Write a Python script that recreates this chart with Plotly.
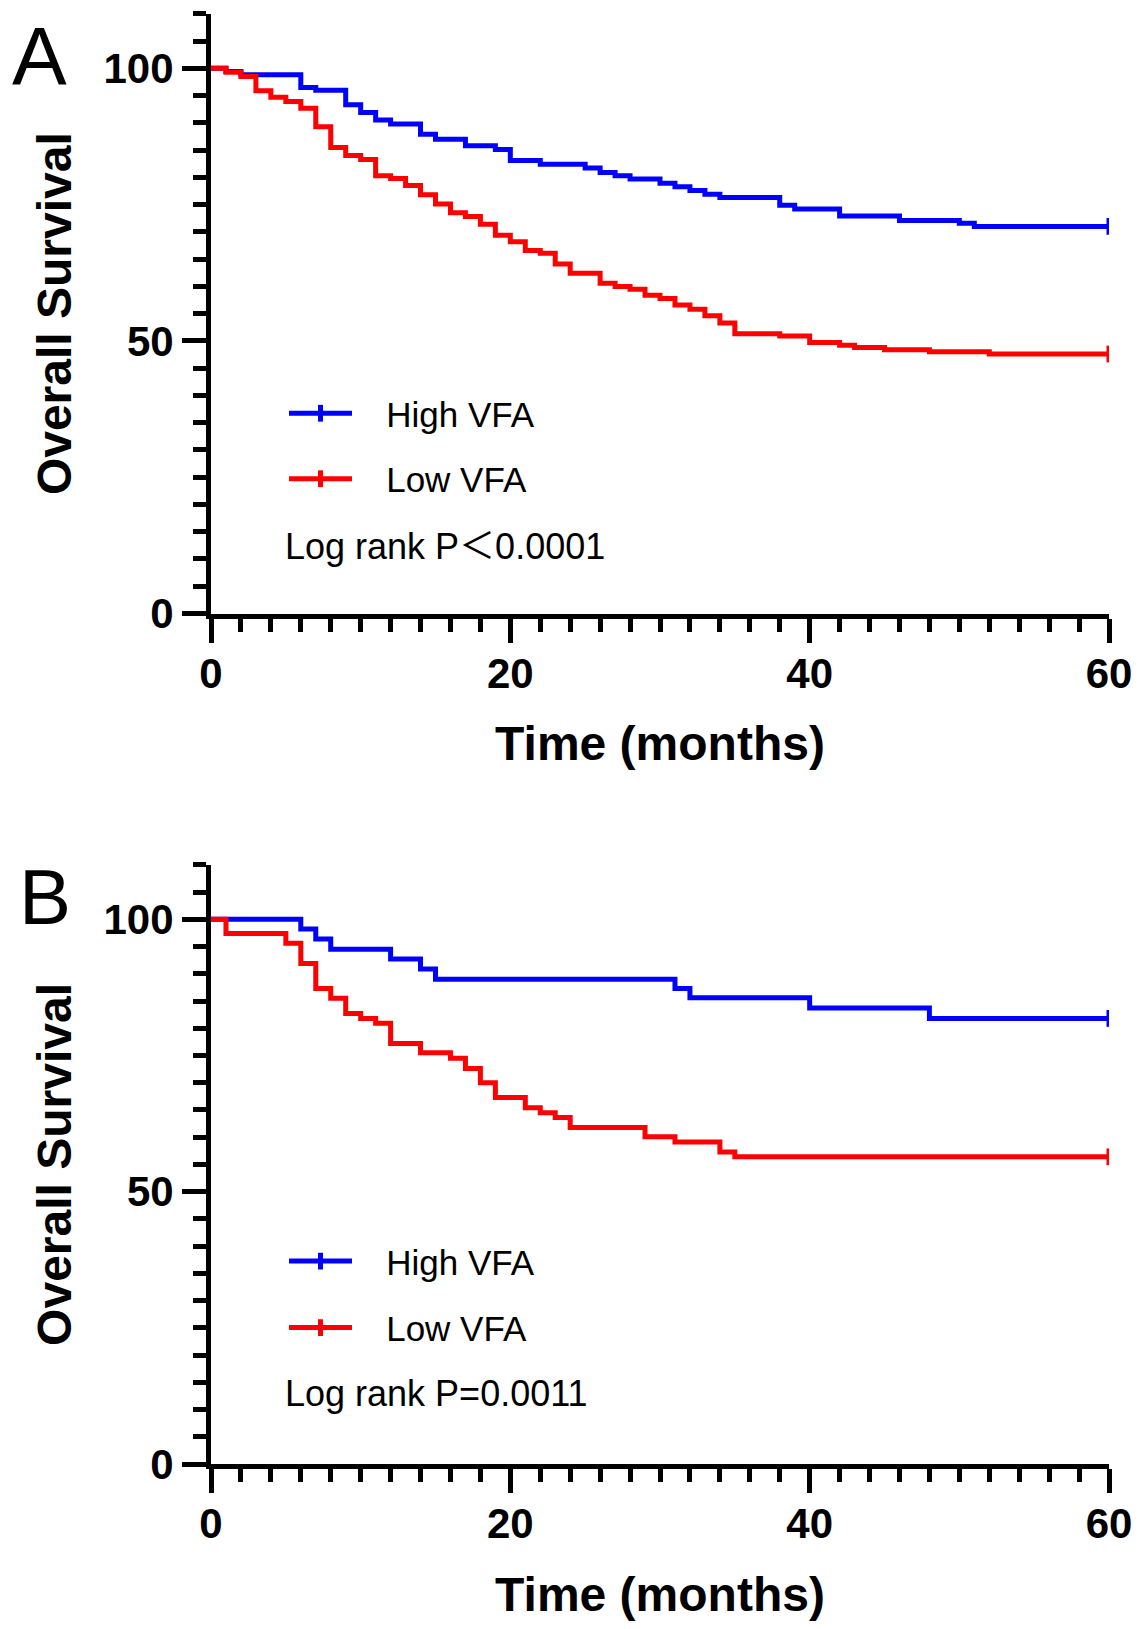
import plotly.graph_objects as go

# ---- panel A: all patients (month, survival %) ----
a_high_t = [0, 1, 2, 6, 7, 9, 10, 11, 12, 14, 15, 17, 19, 20, 22, 25, 26, 27, 28,
            30, 31, 32, 33, 34, 38, 39, 42, 46, 50, 51, 60]
a_high_s = [100, 99.4, 98.8, 96.5, 96.0, 93.3, 91.9, 90.5, 89.8, 87.9, 87.0, 85.8, 85.1,
            83.1, 82.4, 81.7, 80.9, 80.3, 79.7, 78.9, 78.3, 77.6, 76.9, 76.3, 74.9,
            74.2, 72.9, 72.1, 71.6, 71.0, 71.0]

a_low_t = [0, 1, 2, 3, 4, 5, 6, 7, 8, 9, 10, 11, 12, 13, 14, 15, 16, 17, 18, 19, 20,
           21, 22, 23, 24, 26, 27, 28, 29, 30, 31, 32, 33, 34, 35, 38, 40, 42, 43, 45,
           48, 52, 60]
a_low_s = [100, 99.3, 98.5, 95.9, 94.7, 93.9, 92.7, 89.3, 85.5, 84.0, 83.3, 80.3, 79.8,
           78.5, 76.8, 75.1, 73.5, 72.8, 71.4, 69.4, 68.2, 66.6, 66.1, 64.1, 62.4, 60.6,
           60.0, 59.5, 58.4, 57.8, 56.6, 55.8, 54.6, 53.3, 51.3, 50.9, 49.7, 49.2, 48.8,
           48.4, 48.0, 47.6, 47.6]

# ---- panel B ----
b_high_t = [0, 6, 7, 8, 12, 14, 15, 31, 32, 40, 48, 60]
b_high_s = [100, 98.2, 96.4, 94.5, 92.7, 90.9, 89.0, 87.3, 85.6, 83.7, 81.8, 81.8]

b_low_t = [0, 1, 5, 6, 7, 8, 9, 10, 11, 12, 14, 16, 17, 18, 19, 21, 22, 23, 24, 29,
           31, 34, 35, 60]
b_low_s = [100, 97.4, 95.6, 91.9, 87.3, 85.5, 82.7, 81.8, 80.9, 77.2, 75.5, 74.5, 72.6,
           70.0, 67.3, 65.4, 64.5, 63.6, 61.8, 60.1, 59.1, 57.3, 56.4, 56.4]

group_names = ["High VFA", "Low VFA"]
p_values = ["Log rank P＜0.0001", "Log rank P=0.0011"]
panel_labels = ["A", "B"]

BLUE = "#0000FF"
RED = "#FF0000"
FONT = "Liberation Sans"
P_FONT = "Liberation Sans, Noto Sans CJK JP"
GAP = "\u00a0\u00a0\u00a0"  # pushes legend text away from the key, as in the original


def km_traces(t, s, color, name, xa, ya, legend):
    """Step curve plus a censor tick at the end (the tick trace carries the legend)."""
    curve = go.Scatter(x=t, y=s, mode="lines", xaxis=xa, yaxis=ya,
                       line=dict(color=color, width=5, shape="hv"),
                       showlegend=False, hoverinfo="skip")
    censor = go.Scatter(x=[t[-1]], y=[s[-1]], mode="lines+markers", name=GAP + name,
                        xaxis=xa, yaxis=ya, legend=legend, legendgroup=legend + name,
                        line=dict(color=color, width=5),
                        marker=dict(symbol="line-ns", size=12, color=color,
                                    line=dict(color=color, width=5)),
                        hoverinfo="skip")
    return [curve, censor]


def x_axis(anchor):
    return dict(anchor=anchor, domain=[0, 1], range=[0, 60], tick0=0, dtick=20,
                ticks="outside", ticklen=24, tickwidth=5, tickcolor="black",
                showline=True, linewidth=5, linecolor="black",
                showgrid=False, zeroline=False, automargin=False,
                minor=dict(tick0=0, dtick=2, ticks="outside", ticklen=13,
                           tickwidth=5, tickcolor="black", showgrid=False),
                tickfont=dict(family=FONT, size=42, weight="bold", color="black"),
                ticklabelstandoff=-5,
                title=dict(text="Time (months)", standoff=32,
                           font=dict(family=FONT, size=48, weight="bold", color="black")))


def y_axis(anchor, domain):
    return dict(anchor=anchor, domain=domain, range=[0, 110], tick0=0, dtick=50,
                ticks="outside", ticklen=24, tickwidth=5, tickcolor="black",
                showline=True, linewidth=5, linecolor="black",
                showgrid=False, zeroline=False, automargin=False,
                minor=dict(tick0=0, dtick=5, ticks="outside", ticklen=13,
                           tickwidth=5, tickcolor="black", showgrid=False),
                tickfont=dict(family=FONT, size=42, weight="bold", color="black"),
                title=dict(text="Overall Survival", standoff=18,
                           font=dict(family=FONT, size=48, weight="bold", color="black")))


traces = []
traces += km_traces(a_high_t, a_high_s, BLUE, group_names[0], "x", "y", "legend")
traces += km_traces(a_low_t, a_low_s, RED, group_names[1], "x", "y", "legend")
traces += km_traces(b_high_t, b_high_s, BLUE, group_names[0], "x2", "y2", "legend2")
traces += km_traces(b_low_t, b_low_s, RED, group_names[1], "x2", "y2", "legend2")

fig = go.Figure(data=traces)

legend_style = dict(xanchor="left", yanchor="top", bgcolor="rgba(0,0,0,0)",
                    font=dict(family=FONT, size=35, color="black"), itemwidth=63)

# page has an 8px body margin, so the figure is drawn 16px smaller than the window
fig.update_layout(
    width=1126, height=1613,
    margin=dict(l=203, r=25, t=0, b=0),
    paper_bgcolor="white", plot_bgcolor="white",
    xaxis=x_axis("y"),
    yaxis=y_axis("x", [0.6246, 0.9964]),
    xaxis2=x_axis("y2"),
    yaxis2=y_axis("x2", [0.0973, 0.4688]),
    legend=dict(x=0.0813, y=0.7669, tracegroupgap=17, **legend_style),
    legend2=dict(x=0.0813, y=0.2413, tracegroupgap=18, **legend_style),
)

# log-rank p values
for text, yref, y in zip(p_values, ["y domain", "y2 domain"], [0.1115, 0.118]):
    fig.add_annotation(text=text, xref="x domain", yref=yref, x=0.08, y=y,
                       xanchor="left", yanchor="middle", showarrow=False,
                       font=dict(family=P_FONT, size=36, color="black"))

# panel letters
fig.add_annotation(text=panel_labels[0], xref="paper", yref="paper", x=-0.191, y=1.0,
                   xanchor="center", yanchor="top", showarrow=False,
                   font=dict(family=FONT, size=82, color="black"))
fig.add_annotation(text=panel_labels[1], xref="paper", yref="paper", x=-0.185, y=0.4489,
                   xanchor="center", yanchor="middle", showarrow=False,
                   font=dict(family=FONT, size=78, color="black"))

fig.write_html("out.html")
